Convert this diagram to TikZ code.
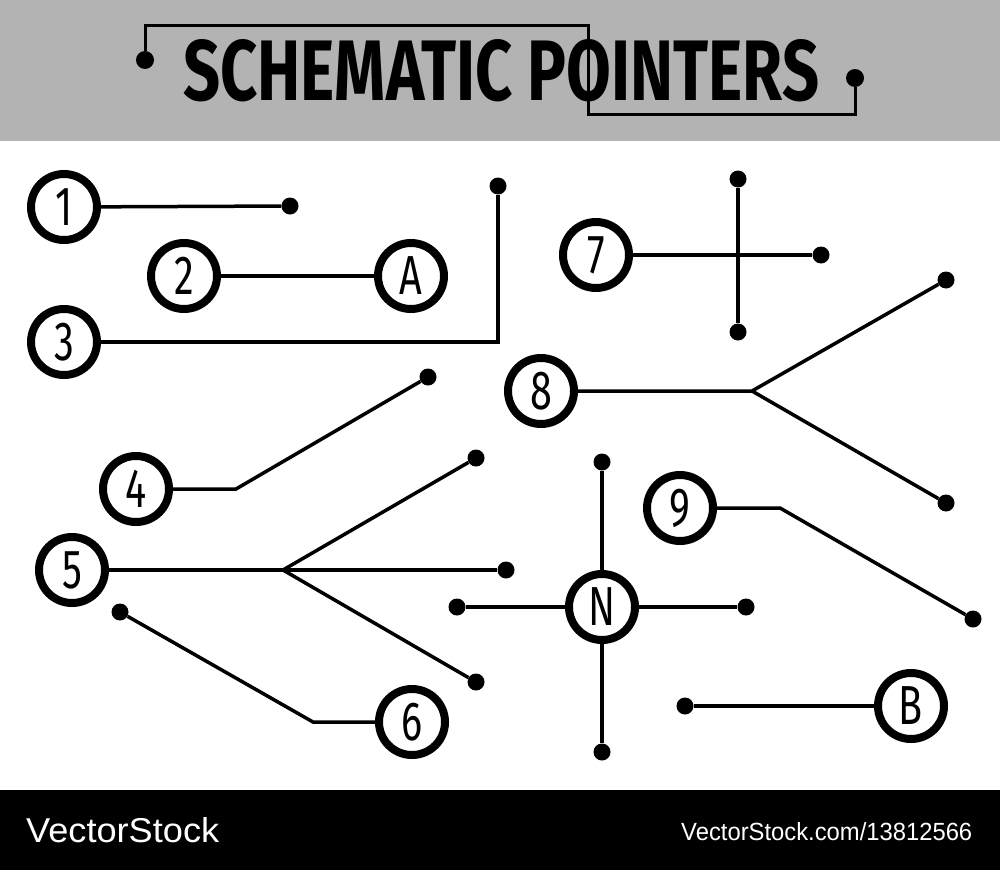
\documentclass[tikz,border=0pt]{standalone}
\usepackage{fontspec}
\setmainfont{Fira Sans}
\newfontfamily\vsfont{Liberation Sans}
\definecolor{hdr}{RGB}{179,179,179}
\begin{document}
\begin{tikzpicture}[x=1pt,y=-1pt,
  wire/.style={line width=3.5pt},
  ring/.style={circle,draw,line width=8pt,minimum size=66pt,inner sep=0pt,fill=white,
    font=\fontsize{55}{55}\selectfont},
  dotn/.style={circle,fill,minimum size=17pt,inner sep=0pt},
  ]
\useasboundingbox (0,0) rectangle (1000,870);
\fill[hdr] (0,0) rectangle (1000,141);
\fill[black] (0,790) rectangle (1000,870);
% title
\node[anchor=base west,inner sep=0pt] (title) at (183,100)
  {\resizebox{636pt}{61pt}{\bfseries SCHEMATIC POINTERS}};
\node[dotn,minimum size=18pt] (tdL) at (145,60) {};
\node[dotn,minimum size=18pt] (tdR) at (855,78) {};
\coordinate (t1) at (145,25);
\coordinate (t2) at (588,25);
\coordinate (t3) at (588,114);
\coordinate (t4) at (855,114);
\draw[wire,line width=3pt] (tdL) -- (t1) -- (t2) -- (t3) -- (t4) -- (tdR);
% footer
\node[anchor=base west,inner sep=0pt,text=white] (vs1) at (26,842)
  {\resizebox{193pt}{25pt}{\vsfont VectorStock}};
\node[anchor=base west,inner sep=0pt,text=white] (vs2) at (681,840)
  {\resizebox{291pt}{18pt}{\vsfont VectorStock.com/13812566}};
% 1
\node[ring] (c1) at (64,207) {\scalebox{0.72}[1]{1}};
\node[dotn] (d1) at (290,206) {};
\draw[wire] (c1) -- (d1);
% 2 - A
\node[ring] (c2) at (184,276) {\scalebox{0.72}[1]{2}};
\node[ring] (cA) at (411,276) {\scalebox{0.72}[1]{A}};
\draw[wire] (c2) -- (cA);
% 3
\node[ring] (c3) at (64,342) {\scalebox{0.72}[1]{3}};
\node[dotn] (d3) at (498,186) {};
\coordinate (b3) at (498,342);
\draw[wire] (c3) -- (b3) -- (d3);
% 7
\node[ring] (c7) at (596,255) {\scalebox{0.72}[1]{7}};
\node[dotn] (d7) at (821,255) {};
\node[dotn] (d7u) at (738,179) {};
\node[dotn] (d7d) at (738,332) {};
\draw[wire] (c7) -- (d7);
\draw[wire] (d7u) -- (d7d);
% 8
\node[ring] (c8) at (541,391) {\scalebox{0.72}[1]{8}};
\coordinate (b8) at (752,391);
\node[dotn] (d8u) at (946,280) {};
\node[dotn] (d8d) at (946,503) {};
\draw[wire] (c8) -- (b8) -- (d8u);
\draw[wire] (b8) -- (d8d);
% 4
\node[ring] (c4) at (136,489) {\scalebox{0.72}[1]{4}};
\coordinate (b4) at (236,489);
\node[dotn] (d4) at (428,377) {};
\draw[wire] (c4) -- (b4) -- (d4);
% 5
\node[ring] (c5) at (72,570) {\scalebox{0.72}[1]{5}};
\coordinate (b5) at (283,570);
\node[dotn] (d5u) at (476,458) {};
\node[dotn] (d5m) at (506,570) {};
\node[dotn] (d5d) at (476,682) {};
\draw[wire] (c5) -- (d5m);
\draw[wire] (b5) -- (d5u);
\draw[wire] (b5) -- (d5d);
% 6
\node[ring] (c6) at (412,722) {\scalebox{0.72}[1]{6}};
\coordinate (b6) at (313,722);
\node[dotn] (d6) at (120,612) {};
\draw[wire] (c6) -- (b6) -- (d6);
% N
\node[dotn] (dNu) at (602,462) {};
\node[dotn] (dNd) at (602,752) {};
\node[dotn] (dNl) at (457,607) {};
\node[dotn] (dNr) at (746,607) {};
\node[ring] (cN) at (602,607) {\scalebox{0.72}[1]{N}};
\draw[wire] (cN) -- (dNu);
\draw[wire] (cN) -- (dNd);
\draw[wire] (cN) -- (dNl);
\draw[wire] (cN) -- (dNr);
% 9
\node[ring] (c9) at (680,508) {\scalebox{0.72}[1]{9}};
\coordinate (b9) at (780,508);
\node[dotn] (d9) at (973,619) {};
\draw[wire] (c9) -- (b9) -- (d9);
% B
\node[ring] (cB) at (911,706) {\scalebox{0.72}[1]{B}};
\node[dotn] (dB) at (685,706) {};
\draw[wire] (cB) -- (dB);
\end{tikzpicture}
\end{document}
